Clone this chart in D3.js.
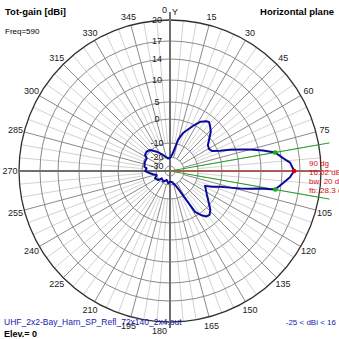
<!DOCTYPE html>
<html><head><meta charset="utf-8">
<script src="https://cdn.jsdelivr.net/npm/d3@7"></script>
<style>body{margin:0;background:#fff;} svg{display:block;font-family:"Liberation Sans",Arial,sans-serif;}</style>
</head><body><svg id="c" width="339" height="339"></svg>
<script>
// ---- data ----
const azimuths = [0,7,12,14.5,19,25,29,32,36,38.5,41,46,51.5,55.5,60.5,64.5,68,70.5,73,75,77.5,80,83.5,86,90,93,96,100,101,102.5,104,105.5,107.5,110.5,113,118,123,129.5,134,138,141.5,145,148.5,149.5,151.5,154.5,158,170,180,188,200,212,228.5,232.5,244,253,259,263.5,270,276.5,279.5,290.5,298.5,302.5,309.5,316.5,325.5,336.5,351];
const gains    = [-21.1,-18.5,-13.2,-8.3,-4.9,-1.9,0.5,1.8,2.8,3.1,2.6,1.4,-0.9,-2.5,-3.0,-2.3,0.6,3.4,6.0,8.1,10.8,13.0,14.3,15.4,16.02,15.35,14.3,13.0,10.1,7.9,5.7,3.0,0.2,-3.0,-5.8,-4.7,-3.3,-0.7,1.2,2.1,1.8,0.5,-1.7,-5.3,-9.4,-15,-18.4,-23.1,-23.7,-21.8,-24.9,-21.6,-23.3,-19.4,-18.1,-20.1,-17.6,-15.6,-12.3,-13.2,-11.4,-10.9,-11.1,-9.3,-9.0,-9.6,-13.3,-17.5,-21.4];
const ringValues = [20,17,14,10,5,0,-10,-20,-30];
const angleLabels = [0,15,30,45,60,75,105,120,135,150,165,180,195,210,225,240,255,270,285,300,315,330,345];
const maxAz = 90, maxGain = 16.02, beamwidth = 20, frontBack = 28.3;
const bwAngles = [80,100];
const freq = 590, elev = 0, minDbi = -25, maxDbi = 16;
const fileName = "UHF_2x2-Bay_Harn_SP_Refl_72x140_2x4.out";

// ---- layout ----
const cx = 170, cy = 171, R = 151;
const svg = d3.select("#c");
const g = svg.append("g").attr("transform", `translate(${cx},${cy})`);
const r = d3.scaleLinear()
  .domain([-40,-30,-20,-10,0,5,10,14,17,20])
  .range([0,5,14,28,52,69,91,112,130,151]).clamp(true);
const rad = d => d * Math.PI / 180;
const px = (a, rr) => rr * Math.sin(rad(a));
const py = (a, rr) => -rr * Math.cos(rad(a));

// spokes
d3.range(0, 360, 5).forEach(a => {
  if (a % 90 === 0) return;
  const major = a % 15 === 0;
  const r0 = major ? r(-20) : r(-10);
  g.append("line").attr("x1", px(a, r0)).attr("y1", py(a, r0))
    .attr("x2", px(a, R)).attr("y2", py(a, R))
    .attr("stroke", major ? "#8a8a8a" : "#d2d2d2").attr("stroke-width", 1);
});
// rings
ringValues.slice(1).forEach(v => {
  g.append("circle").attr("r", r(v)).attr("fill", "none").attr("stroke", "#8a8a8a").attr("stroke-width", 1);
});
g.append("circle").attr("r", R).attr("fill", "none").attr("stroke", "#303030").attr("stroke-width", 1.3);
// axes
g.append("line").attr("x1", 0).attr("y1", -159).attr("x2", 0).attr("y2", 157).attr("stroke", "#707070").attr("stroke-width", 2);
g.append("line").attr("x1", -R).attr("y1", 0).attr("x2", R).attr("y2", 0).attr("stroke", "#707070").attr("stroke-width", 2);

// beamwidth & max lines
const L = 162;
bwAngles.forEach(a => {
  g.append("line").attr("x1", 0).attr("y1", 0).attr("x2", px(a, L)).attr("y2", py(a, L))
    .attr("stroke", "#20a020").attr("stroke-width", 1);
});
g.append("line").attr("x1", 0).attr("y1", 0).attr("x2", px(maxAz, L)).attr("y2", py(maxAz, L))
  .attr("stroke", "#e04848").attr("stroke-width", 1);

// pattern
const pts = azimuths.map((a, i) => [rad(a), r(gains[i])]);
g.append("path").attr("d", d3.lineRadial().curve(d3.curveLinearClosed)(pts))
  .attr("fill", "none").attr("stroke", "#0a0aa0").attr("stroke-width", 2).attr("stroke-linejoin", "round");

// dots
const bwGain = maxGain - 3;
bwAngles.forEach(a => {
  g.append("circle").attr("cx", px(a, r(bwGain))).attr("cy", py(a, r(bwGain))).attr("r", 2.3).attr("fill", "#10b010");
});
g.append("circle").attr("cx", px(maxAz, r(maxGain))).attr("cy", py(maxAz, r(maxGain))).attr("r", 2.3).attr("fill", "#e00000");

// ring labels
ringValues.forEach(v => {
  g.append("text").attr("x", -13).attr("y", -r(v)).attr("dy", "0.35em")
    .attr("text-anchor", "middle").attr("font-size", 9).attr("fill", "#202020").text(v);
});
// angle labels
angleLabels.forEach(a => {
  const t = g.append("text").attr("font-size", 9).attr("fill", "#202020").attr("dy", "0.35em");
  if (a === 0 || a === 180) {
    t.attr("x", -3).attr("y", a === 0 ? -161 : 160).attr("text-anchor", "end");
  } else {
    t.attr("x", px(a, 160)).attr("y", py(a, 160)).attr("text-anchor", "middle");
  }
  t.text(a);
});
g.append("text").attr("x", 2).attr("y", -159).attr("dy", "0.35em").attr("font-size", 9).attr("fill", "#202020").text("Y");

// annotations
const ann = [`${maxAz} dg`, `${maxGain.toFixed(2)} dB`, `bw: ${beamwidth} dg`, `fb: ${frontBack} dB`];
ann.forEach((s, i) => {
  svg.append("text").attr("x", 309).attr("y", 166 + i * 9).attr("font-size", 8).attr("fill", "#d01010").text(s);
});

// titles
svg.append("text").attr("x", 5).attr("y", 15).attr("font-size", 9.5).attr("font-weight", "bold").attr("fill", "#000").text("Tot-gain [dBi]");
svg.append("text").attr("x", 334).attr("y", 15).attr("text-anchor", "end").attr("font-size", 9.5).attr("font-weight", "bold").attr("fill", "#000").text("Horizontal plane");
svg.append("text").attr("x", 5).attr("y", 34).attr("font-size", 8).attr("fill", "#000").text(`Freq=${freq}`);
svg.append("text").attr("x", 4).attr("y", 325).attr("font-size", 8.5).attr("fill", "#1818b0").text(fileName);
svg.append("text").attr("x", 336).attr("y", 325).attr("text-anchor", "end").attr("font-size", 8).attr("fill", "#1818b0").text(`${minDbi} < dBi < ${maxDbi}`);
svg.append("text").attr("x", 4).attr("y", 337).attr("font-size", 9).attr("font-weight", "bold").attr("fill", "#000").text(`Elev.= ${elev}`);
</script></body></html>
